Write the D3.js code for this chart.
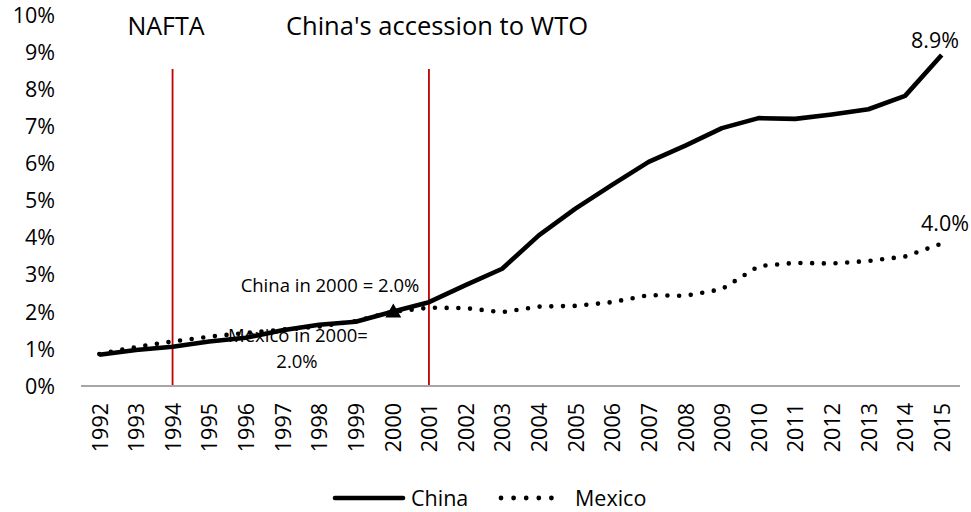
<!DOCTYPE html>
<html>
<head>
<meta charset="utf-8">
<script src="https://cdn.jsdelivr.net/npm/d3@7"></script>
<style>
  body { margin: 0; background: #fff; }
  text { font-family: "Open Sans", sans-serif; fill: #000; }
</style>
</head>
<body>
<div id="chartContainer"></div>
<script>
// data (share in %)
var years = ["1992","1993","1994","1995","1996","1997","1998","1999","2000","2001","2002","2003",
             "2004","2005","2006","2007","2008","2009","2010","2011","2012","2013","2014","2015"];
var china  = [0.84, 0.97, 1.06, 1.2, 1.3, 1.5, 1.65, 1.73, 2.0, 2.26, 2.72, 3.16,
              4.06, 4.78, 5.42, 6.04, 6.48, 6.95, 7.22, 7.2, 7.32, 7.46, 7.82, 8.92];
var mexico = [0.86, 1.05, 1.2, 1.33, 1.43, 1.52, 1.6, 1.75, 2.0, 2.11, 2.1, 1.99,
              2.14, 2.16, 2.26, 2.45, 2.43, 2.61, 3.23, 3.32, 3.3, 3.37, 3.49, 3.84];
var yTicks = [0,1,2,3,4,5,6,7,8,9,10];
var events = [{year: "1994", label: "NAFTA"}, {year: "2001", label: "China's accession to WTO"}];

var svg = d3.select("#chartContainer").append("svg")
    .attr("width", 971).attr("height", 512);

var x = d3.scalePoint().domain(years).range([81, 960]).padding(0.5);
var y = d3.scaleLinear().domain([0, 10]).range([386, 15]);

// y tick labels (no axis line in the original)
svg.selectAll(".ytick").data(yTicks).enter().append("text")
    .attr("x", 55).attr("y", function(d) { return y(d); })
    .attr("dy", "0.36em")
    .attr("text-anchor", "end")
    .style("font-size", "21.5px")
    .text(function(d) { return d + "%"; });

// x axis
var xAxis = d3.axisBottom(x).tickSize(0).tickPadding(0);
var gx = svg.append("g").attr("transform", "translate(0,386)").call(xAxis);
gx.select(".domain").attr("stroke", "#898989").attr("stroke-width", 1.6)
  .attr("d", "M81,0H960");
gx.selectAll(".tick text")
    .attr("transform", "translate(0,17) rotate(-90)")
    .attr("text-anchor", "end")
    .attr("x", 0).attr("y", 0).attr("dy", "0.36em")
    .style("font-family", "'Open Sans', sans-serif")
    .style("font-size", "21.5px")
    .attr("fill", "#000");

// event markers
svg.selectAll(".evline").data(events).enter().append("line")
    .attr("x1", function(d) { return x(d.year); })
    .attr("x2", function(d) { return x(d.year); })
    .attr("y1", 69).attr("y2", 385)
    .attr("stroke", "#c00000").attr("stroke-width", 1.8);

svg.append("text").attr("x", 166).attr("y", 35).attr("text-anchor", "middle")
    .style("font-size", "25px").text(events[0].label);
svg.append("text").attr("x", 437).attr("y", 35).attr("text-anchor", "middle")
    .style("font-size", "25.5px").text(events[1].label);

// annotations around 2000 (drawn under the lines)
svg.append("text").attr("x", 330).attr("y", 292).attr("text-anchor", "middle")
    .style("font-size", "18.5px").text("China in 2000 = 2.0%");
svg.append("text").attr("x", 298).attr("y", 342).attr("text-anchor", "middle")
    .style("font-size", "18.5px").text("Mexico in 2000=");
svg.append("text").attr("x", 297).attr("y", 368).attr("text-anchor", "middle")
    .style("font-size", "18.5px").text("2.0%");

var line = d3.line()
    .x(function(d, i) { return x(years[i]); })
    .y(function(d) { return y(d); });

svg.append("path").datum(mexico)
    .attr("d", line)
    .attr("fill", "none").attr("stroke", "#000")
    .attr("stroke-width", 4.6).attr("stroke-linecap", "round")
    .attr("stroke-dasharray", "0,11.7");

svg.append("path").datum(china)
    .attr("d", line)
    .attr("fill", "none").attr("stroke", "#000")
    .attr("stroke-width", 4.6).attr("stroke-linejoin", "round");

// marker at 2000
svg.append("path")
    .attr("d", d3.symbol().type(d3.symbolTriangle).size(110))
    .attr("transform", "translate(" + (x("2000") + 1) + "," + (y(2.0) + 1) + ")")
    .attr("fill", "#000");

// end labels
svg.append("text").attr("x", 959).attr("y", 48).attr("text-anchor", "end")
    .style("font-size", "21.5px").text("8.9%");
svg.append("text").attr("x", 969).attr("y", 231).attr("text-anchor", "end")
    .style("font-size", "21.5px").text("4.0%");

// legend
var lg = svg.append("g");
lg.append("line").attr("x1", 335).attr("x2", 403).attr("y1", 498).attr("y2", 498)
    .attr("stroke", "#000").attr("stroke-width", 4.6).attr("stroke-linecap", "round");
lg.append("text").attr("x", 411).attr("y", 498).attr("dy", "0.36em")
    .style("font-size", "21.5px").text("China");
lg.append("line").attr("x1", 501).attr("x2", 564).attr("y1", 498).attr("y2", 498)
    .attr("stroke", "#000").attr("stroke-width", 4.8).attr("stroke-linecap", "round")
    .attr("stroke-dasharray", "0,12.6");
lg.append("text").attr("x", 575).attr("y", 498).attr("dy", "0.36em")
    .style("font-size", "21.5px").text("Mexico");
</script>
</body>
</html>
